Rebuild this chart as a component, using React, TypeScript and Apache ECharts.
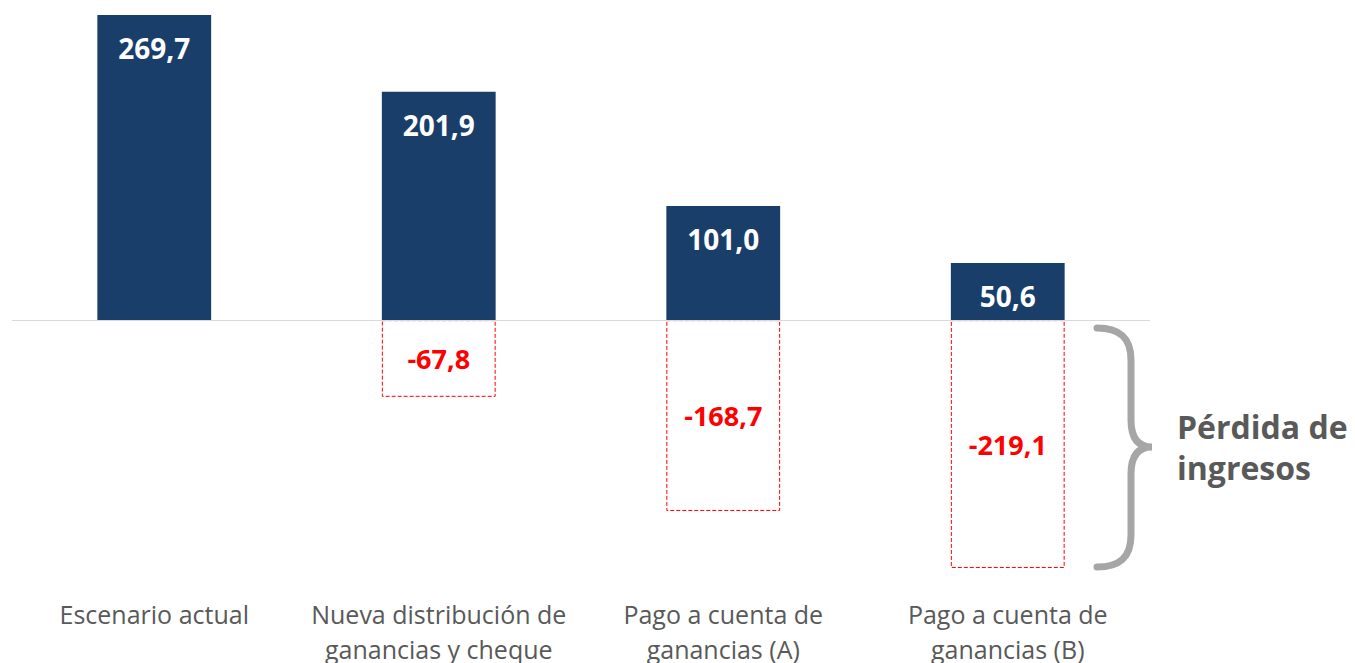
import React, { useEffect, useRef } from "react";
import * as echarts from "echarts";

const categories = [
  "Escenario actual",
  "Nueva distribución de\nganancias y cheque",
  "Pago a cuenta de\nganancias (A)",
  "Pago a cuenta de\nganancias (B)",
];
const remainingValues = [269.7, 201.9, 101.0, 50.6];
const lossValues: (number | string)[] = ["-", -67.8, -168.7, -219.1];
const braceLabel = "Pérdida de\ningresos";

const fmt = (v: number) => v.toFixed(1).replace(".", ",");

const bracePath =
  "M1097,328 C1120,328 1131,338 1131,360 L1131,420 C1131,438 1138,447 1152,447 C1138,447 1131,456 1131,474 L1131,535 C1131,557 1120,567 1097,567";

export default function App() {
  const ref = useRef<HTMLDivElement>(null);
  useEffect(() => {
    if (!ref.current) return;
    try {
      echarts.graphic.registerShape("brace", echarts.graphic.extendPath(bracePath, {}) as any);
    } catch (e) {}
    const chart = echarts.init(ref.current, null, { renderer: "svg" });
    const font = "'Open Sans', 'Noto Sans', sans-serif";
    chart.setOption({
      animation: false,
      textStyle: { fontFamily: font },
      grid: {
        left: 12,
        right: 205,
        top: 14.7,
        height: 554.3,
        containLabel: false,
        outerBoundsMode: "none",
      },
      xAxis: {
        type: "category",
        data: categories,
        axisLine: { show: false, onZero: false },
        axisTick: { show: false },
        axisLabel: {
          color: "#595959",
          fontSize: 25,
          lineHeight: 35,
          margin: 27,
          fontFamily: font,
          interval: 0,
        },
      },
      yAxis: {
        type: "value",
        min: -220,
        max: 270,
        show: false,
        splitLine: { show: false },
      },
      series: [
        {
          type: "bar",
          stack: "s",
          data: remainingValues,
          barWidth: "40%",
          itemStyle: { color: "#1a3e6a" },
          label: {
            show: true,
            position: "insideTop",
            distance: 19,
            color: "#ffffff",
            fontSize: 28,
            fontWeight: "bold",
            fontFamily: font,
            formatter: (p: any) => fmt(p.value),
          },
          markLine: {
            silent: true,
            symbol: "none",
            label: { show: false },
            lineStyle: { color: "#d9d9d9", width: 1, type: "solid" },
            data: [{ yAxis: 0 }],
          },
          z: 3,
        },
        {
          type: "bar",
          stack: "s",
          data: lossValues,
          barWidth: "40%",
          itemStyle: {
            color: "#ffffff",
            borderColor: "#ff0000",
            borderWidth: 1,
            borderType: "dashed",
          },
          label: {
            show: true,
            position: "inside",
            color: "#ff0000",
            fontSize: 27,
            fontWeight: "bold",
            fontFamily: font,
            formatter: (p: any) => fmt(p.value),
          },
        },
      ],
      graphic: [
        {
          type: "brace",
          x: 0,
          y: 0,
          style: { stroke: "#a6a6a6", lineWidth: 7, fill: null, lineCap: "round" },
        },
        {
          type: "text",
          left: 1177,
          top: 406,
          style: {
            text: braceLabel,
            fill: "#595959",
            font: `bold 32px ${font}`,
            lineHeight: 41,
          },
        },
      ],
    });
    return () => chart.dispose();
  }, []);
  return (
    <div
      ref={ref}
      style={{ position: "fixed", left: 0, top: 0, width: 1355, height: 663, background: "#fff" }}
    />
  );
}
